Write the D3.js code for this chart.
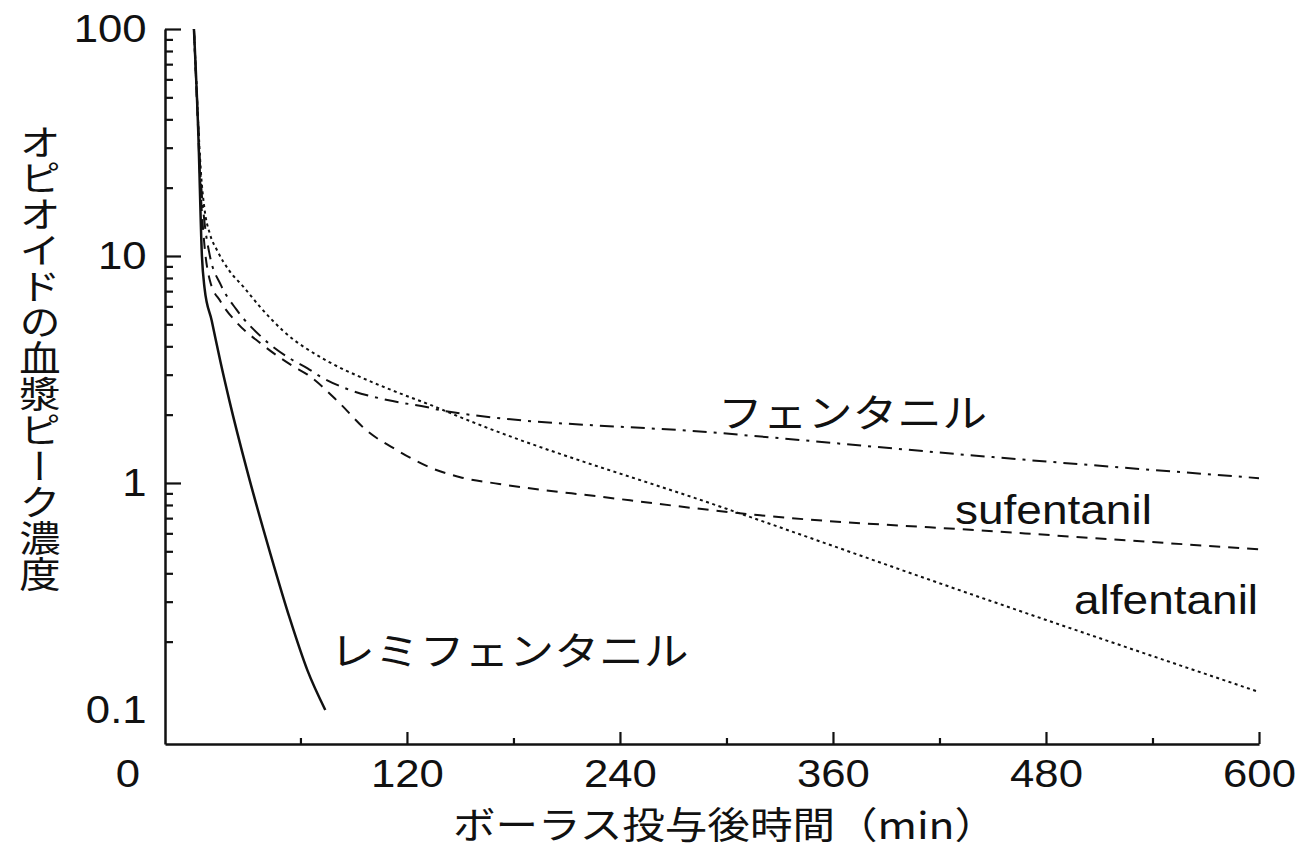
<!DOCTYPE html>
<html>
<head>
<meta charset="utf-8">
<script src="https://cdn.jsdelivr.net/npm/d3@7"></script>
<style>
  body { margin: 0; background: #fff; }
  svg { display: block; }
</style>
</head>
<body>
<svg id="chart" width="1305" height="851"></svg>
<script>
// minutes after bolus / % of peak plasma concentration
const remiTime = [0, 2.5, 4.5, 6, 10, 15, 20, 30, 43, 54, 64, 74];
const remiConc = [100, 34, 10, 7.2, 5.2, 3.4, 2.3, 1.13, 0.49, 0.253, 0.149, 0.1];

const fentTime = [0, 2, 4, 6, 9, 15, 24, 38, 55, 64, 71, 86, 109, 131, 142, 296, 450, 600];
const fentConc = [100, 45, 21, 14, 10, 7.5, 5.8, 4.4, 3.5, 3.2, 2.95, 2.6, 2.32, 2.16, 2.07, 1.66, 1.3, 1.05];

const sufTime = [0, 2, 4, 6, 9, 15, 24, 38, 55, 64, 82, 97, 114, 133, 150, 172, 229, 319, 454, 600];
const sufConc = [100, 42, 18, 11, 7.8, 6.3, 5.1, 4.1, 3.3, 3.0, 2.25, 1.71, 1.4, 1.17, 1.06, 0.99, 0.87, 0.72, 0.61, 0.51];

const alfTime = [0, 2, 4, 6, 9, 13, 20, 28, 37, 50, 75, 95, 115, 135, 150, 300, 450, 600];
const alfConc = [100, 45, 23, 16, 12.5, 10.6, 8.6, 7.3, 6.0, 4.7, 3.45, 2.9, 2.5, 2.18, 1.95, 0.77, 0.30, 0.12];

const xMajor = [120, 240, 360, 480, 600];
const xMinor = [60, 180, 300, 420, 540];
const yMajor = [100, 10, 1, 0.1];
const yMinor = [0.2, 0.3, 0.4, 0.5, 0.6, 0.7, 0.8, 0.9, 2, 3, 4, 5, 6, 7, 8, 9, 20, 30, 40, 50, 60, 70, 80, 90];

const latin = "'Liberation Sans', Arial, Helvetica, sans-serif";
const jp = "'Noto Sans CJK JP', 'Noto Sans', sans-serif";
const sx = 1.15; // the original is slightly stretched horizontally

const svg = d3.select("#chart");

const x = d3.scaleLinear().domain([-16.3, 600]).range([165, 1259]);
const y = d3.scaleLog().domain([0.0708, 100]).range([744, 29]);

// x axis
const xAxis = svg.append("g").attr("transform", "translate(0,744)");
xAxis.call(d3.axisBottom(x).tickValues(xMajor).tickSizeInner(-12).tickSizeOuter(0).tickPadding(16));
xAxis.append("g").call(d3.axisBottom(x).tickValues(xMinor).tickSizeInner(-6).tickSizeOuter(0).tickFormat(""))
  .select(".domain").remove();

// y axis
const yAxis = svg.append("g").attr("transform", "translate(165,0)");
yAxis.call(d3.axisLeft(y).tickValues(yMajor).tickSizeInner(-16).tickSizeOuter(0).tickPadding(16)
  .tickFormat(d => d >= 1 ? d3.format("d")(d) : d3.format(".1f")(d)));
yAxis.selectAll(".tick").filter(d => d < 1).select("line").remove();
yAxis.append("g").call(d3.axisLeft(y).tickValues(yMinor).tickSizeInner(-8).tickSizeOuter(0).tickFormat(""))
  .select(".domain").remove();

svg.selectAll(".domain").attr("stroke", "#111").attr("stroke-width", 2.5);
svg.selectAll(".tick line").attr("stroke", "#111").attr("stroke-width", 2.2);
svg.selectAll(".tick text")
  .attr("fill", "#111")
  .attr("font-family", latin)
  .attr("font-size", 38)
  .attr("transform", `scale(${sx},1)`);

// the "0" sits left of the axis corner
svg.append("text")
  .attr("transform", `translate(128,774) scale(${sx},1)`)
  .attr("text-anchor", "middle").attr("dominant-baseline", "central")
  .attr("font-family", latin).attr("font-size", 38).attr("fill", "#111")
  .text("0");

const line = d3.line()
  .x(d => x(d[0]))
  .y(d => y(d[1]))
  .curve(d3.curveMonotoneX);

const series = [
  { t: alfTime, c: alfConc, dash: "3,3.5", w: 2 },
  { t: sufTime, c: sufConc, dash: "11,8", w: 2 },
  { t: fentTime, c: fentConc, dash: "14,7,3,7", w: 2 },
  { t: remiTime, c: remiConc, dash: null, w: 2.5 }
];

svg.selectAll("path.curve")
  .data(series)
  .enter()
  .append("path")
  .attr("class", "curve")
  .attr("d", s => line(d3.zip(s.t, s.c)))
  .attr("fill", "none")
  .attr("stroke", "#111")
  .attr("stroke-width", s => s.w)
  .attr("stroke-dasharray", s => s.dash);

function label(txt, px, py, font, size) {
  svg.append("text")
    .attr("transform", `translate(${px},${py}) scale(${sx},1)`)
    .attr("dominant-baseline", "central")
    .attr("font-family", font)
    .attr("font-size", size)
    .attr("fill", "#111")
    .text(txt);
}

label("フェンタニル", 718, 410, jp, 39);
label("sufentanil", 955, 510, latin, 40);
label("alfentanil", 1074, 600, latin, 40);
label("レミフェンタニル", 330, 648, jp, 39);
label("ボーラス投与後時間（min）", 453, 823, jp, 37);

// vertical y-axis title
svg.append("text")
  .attr("transform", `translate(40,124) scale(${sx},1)`)
  .style("writing-mode", "vertical-rl")
  .attr("font-family", jp)
  .attr("font-size", 36)
  .attr("fill", "#111")
  .text("オピオイドの血漿ピーク濃度");
</script>
</body>
</html>
